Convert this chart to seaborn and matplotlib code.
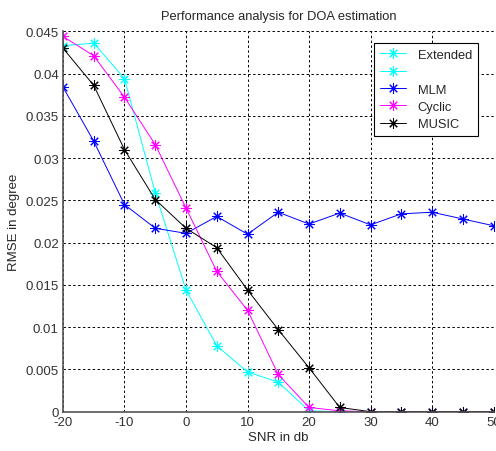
import pandas as pd
import matplotlib.pyplot as plt
import seaborn as sns
from matplotlib.lines import Line2D

snr = [-20, -15, -10, -5, 0, 5, 10, 15, 20, 25, 30, 35, 40, 45, 50]

extended = [0.0433, 0.0436, 0.0394, 0.0259, 0.0144, 0.0078, 0.0047, 0.0035, 0.0001, 0.0, 0.0, 0.0, 0.0, 0.0, 0.0]
mlm = [0.0384, 0.0320, 0.0245, 0.0217, 0.0211, 0.0231, 0.0210, 0.0236, 0.0222, 0.0235, 0.0221, 0.0234, 0.0236, 0.0228, 0.0220]
cyclic = [0.0444, 0.0421, 0.0372, 0.0316, 0.0241, 0.0166, 0.0120, 0.0044, 0.0005, 0.0001, 0.0, 0.0, 0.0, 0.0, 0.0]
music = [0.0430, 0.0386, 0.0310, 0.0251, 0.0217, 0.0194, 0.0144, 0.0097, 0.0052, 0.0005, 0.0, 0.0, 0.0, 0.0, 0.0]

series = {'Extended': extended, 'MLM': mlm, 'Cyclic': cyclic, 'MUSIC': music}
colors = {'Extended': '#00ffff', 'MLM': '#0000ff', 'Cyclic': '#ff00ff', 'MUSIC': '#000000'}

df = pd.DataFrame([(name, x, y) for name, vals in series.items() for x, y in zip(snr, vals)],
                  columns=['method', 'snr', 'rmse'])

sns.set_style('white')
plt.rcParams['font.family'] = ['Liberation Sans', 'DejaVu Sans']
plt.rcParams['axes.unicode_minus'] = False

star = (8, 2, 0)  # asterisk like MATLAB '*'

fig = plt.figure(figsize=(4.96, 4.52), dpi=100)
ax = fig.add_axes([0.127, 0.087, 0.868, 0.8415])

for name in series:
    sns.lineplot(data=df[df['method'] == name], x='snr', y='rmse', color=colors[name],
                 marker=star, markersize=7.5, markeredgewidth=0.75, markeredgecolor=colors[name],
                 linewidth=0.7, ax=ax, legend=False)

ax.set_xlim(-20, 50)
ax.set_ylim(0, 0.045)
ax.set_xticks(range(-20, 51, 10))
ax.set_xticklabels([str(v) for v in range(-20, 51, 10)])
ax.set_yticks([i * 0.005 for i in range(10)])
ax.set_yticklabels(['0', '0.005', '0.01', '0.015', '0.02', '0.025', '0.03', '0.035', '0.04', '0.045'])
ax.tick_params(direction='in', length=3, labelsize=9.5, colors='#333333', pad=3)
ax.grid(True, color='black', linestyle=(0, (2.5, 2.5)), linewidth=0.7)
for s in ['top', 'right']:
    ax.spines[s].set_visible(False)
for s in ['left', 'bottom']:
    ax.spines[s].set_color('#555555')
    ax.spines[s].set_linewidth(1.2)

ax.set_title('Performance analysis for DOA estimation', fontsize=9.3, pad=9)
ax.set_xlabel('SNR in db', fontsize=9.5, labelpad=2)
ax.set_ylabel('RMSE in degree', fontsize=9.5, labelpad=4)

handles = []
labels = []
for name in ['Extended', None, 'MLM', 'Cyclic', 'MUSIC']:
    c = colors['Extended'] if name is None else colors[name]
    handles.append(Line2D([], [], color=c, marker=star, markersize=7.5, markeredgewidth=0.75,
                          markeredgecolor=c, linewidth=0.7))
    labels.append(name if name else ' ')
leg = ax.legend(handles, labels, loc='upper right', bbox_to_anchor=(0.963, 0.97), fontsize=9.3,
                frameon=True, fancybox=False, edgecolor='black', framealpha=1,
                handlelength=2.0, labelspacing=0.42, borderpad=0.45, handletextpad=0.9,
                borderaxespad=0)
leg.get_frame().set_linewidth(0.8)

plt.savefig('out.png', dpi=100)
